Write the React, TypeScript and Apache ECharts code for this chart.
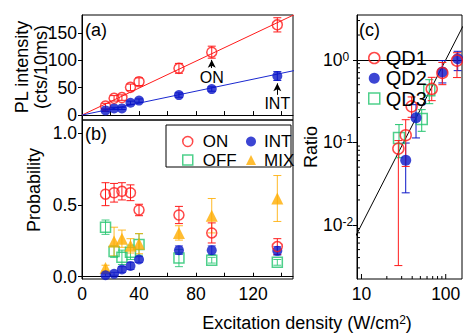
import React, { useEffect, useRef } from 'react';
import * as echarts from 'echarts';

const FONT = '"Liberation Sans", Arial, Helvetica, sans-serif';

// ---------- Panel (a): PL intensity ----------
const densityAB = [16.5, 22.5, 28, 34, 40, 68, 91, 137];
const plOn = [16.5, 30.6, 32, 50.7, 61, 85.5, 115, 165];
const plOnErr = [5, 5, 5, 6, 7, 9, 11, 13];
const plInt = [8.5, 12.2, 12.2, 22.5, 26.5, 36.6, 47.6, 71.4];
const plIntErr = [2, 2, 2, 3, 3, 4, 4, 8];
const onFitX = [0, 150];
const onFitY = [0, 185];
const intFitX = [0, 150];
const intFitY = [0, 82];

// ---------- Panel (b): probabilities ----------
const probOn = [0.575, 0.585, 0.595, 0.585, 0.465, 0.43, 0.305, 0.21];
const probOnErr = [0.08, 0.065, 0.06, 0.055, 0.04, 0.06, 0.07, 0.055];
const probInt = [0.01, 0.02, 0.05, 0.075, 0.12, 0.185, 0.185, 0.18];
const probIntErr = [0.01, 0.01, 0.02, 0.025, 0.02, 0.03, 0.03, 0.03];
const probOff = [0.345, 0.175, 0.135, 0.17, 0.225, 0.13, 0.115, 0.1];
const probOffErr = [0.05, 0.04, 0.05, 0.05, 0.075, 0.06, 0.02, 0.02];
const probMix = [0.06, 0.245, 0.265, 0.215, 0.23, 0.305, 0.425, 0.545];
const probMixErr = [0.02, 0.1, 0.06, 0.05, 0.07, 0.05, 0.12, 0.16];

// ---------- Panel (c): ratio (log-log) ----------
const qd1X = [27.4, 33.5, 39.4, 68.2, 91.2, 136];
const qd1Y = [0.084, 0.122, 0.273, 0.444, 0.694, 0.978];
const qd1Lo = [0.0032, 0.051, 0.201, 0.32, 0.5, 0.61];
const qd1Hi = [0.105, 0.188, 0.355, 0.614, 0.93, 1.22];
const qd2X = [33.5, 44.4, 91.2, 138.7];
const qd2Y = [0.0605, 0.198, 0.713, 1.03];
const qd2Lo = [0.0244, 0.113, 0.525, 0.74];
const qd2Hi = [0.098, 0.286, 0.98, 1.27];
const qd3X = [27.9, 51.9, 63.8];
const qd3Y = [0.113, 0.192, 0.427];
const qd3Lo = [0.065, 0.136, 0.294];
const qd3Hi = [0.164, 0.249, 0.575];
const fitCX = [8, 160];
const fitCY = [0.0064, 2.56];

// axis ranges and tick values
const cXRange = [8.85, 156];
const cYRange = [0.0022, 3.5];
const aYTicks = [0, 50, 100, 150];
const abXTicks = [20, 40, 60, 80, 100, 120, 140];
const bXLabels = [0, 40, 80, 120];
const bYTicks = [0, 0.5, 1];
const cXDecades = [10, 100];
const cYDecades = [-2, -1, 0]; // exponents: 10^-2, 10^-1, 10^0
const cXMinor = [20, 30, 40, 50, 60, 70, 80, 90];
const cYMinor = [0.003, 0.004, 0.005, 0.006, 0.007, 0.008, 0.009, 0.02, 0.03, 0.04, 0.05, 0.06, 0.07, 0.08, 0.09, 0.2, 0.3, 0.4, 0.5, 0.6, 0.7, 0.8, 0.9, 2, 3];

const RED = '#ff1a1a';
const BLUE = '#0b16c8';
const GREEN = '#22c46e';
const ORANGE = '#ffad00';

const pairs = (xs: number[], ys: number[]) => xs.map((x, i) => [x, ys[i]]);

const errBars = (
  name: string, xi: number, yi: number, xs: number[], lows: number[], highs: number[],
  color: string, opacity = 1, capW = 4
) => ({
  type: 'custom', name, xAxisIndex: xi, yAxisIndex: yi, silent: true, z: 2,
  data: xs.map((x, i) => [x, lows[i], highs[i]]),
  encode: { x: 0, y: [1, 2] },
  renderItem: (params: any, api: any) => {
    const x = api.value(0);
    const lo = api.coord([x, api.value(1)]);
    const hi = api.coord([x, api.value(2)]);
    const style = { stroke: color, lineWidth: 1, opacity };
    return {
      type: 'group',
      children: [
        { type: 'line', shape: { x1: lo[0], y1: lo[1], x2: hi[0], y2: hi[1] }, style },
        { type: 'line', shape: { x1: lo[0] - capW, y1: lo[1], x2: lo[0] + capW, y2: lo[1] }, style },
        { type: 'line', shape: { x1: hi[0] - capW, y1: hi[1], x2: hi[0] + capW, y2: hi[1] }, style },
      ],
    };
  },
});

const symErr = (name: string, xi: number, yi: number, xs: number[], ys: number[], err: number[], color: string, opacity = 1) =>
  errBars(name, xi, yi, xs, ys.map((v, i) => v - err[i]), ys.map((v, i) => v + err[i]), color, opacity);

const scatter = (
  name: string, xi: number, yi: number, xs: number[], ys: number[],
  symbol: string, size: number, color: string, open: boolean, extra: any = {}
) => ({
  type: 'scatter', name, xAxisIndex: xi, yAxisIndex: yi, symbol, symbolSize: size, z: 3,
  data: pairs(xs, ys),
  itemStyle: open ? { color: 'rgba(0,0,0,0)', borderColor: color, borderWidth: 1.5 } : { color },
  ...extra,
});

const lineSeries = (name: string, xi: number, yi: number, xs: number[], ys: number[], color: string) => ({
  type: 'line', name, xAxisIndex: xi, yAxisIndex: yi, data: pairs(xs, ys), showSymbol: false, symbol: 'none',
  lineStyle: { color, width: 1 }, clip: true, z: 1, silent: true,
});

const arrowMark = (x: number, y0: number, y1: number, text: string) => ({
  silent: true,
  symbol: ['none', 'arrow'],
  symbolSize: [6, 8],
  lineStyle: { color: '#000', width: 1, type: 'solid' },
  label: { show: true, position: 'start', formatter: text, color: '#000', fontSize: 16, fontFamily: FONT, distance: 1 },
  emphasis: { disabled: true },
  data: [[{ coord: [x, y0] }, { coord: [x, y1] }]],
});

// ticks (major & minor) and decade labels along the bottom / left edges of the log-log panel
const logEdgeMarks = (name: string, values: number[], dir: 'x' | 'y', len: number, withLabel: boolean) => ({
  type: 'custom', name, xAxisIndex: 2, yAxisIndex: 2, silent: true, z: 5,
  data: values.map((v) => (dir === 'x' ? [v, 0.1] : [20, v])),
  encode: { x: 0, y: 1 },
  renderItem: (params: any, api: any) => {
    const cs = params.coordSys;
    const v = dir === 'x' ? api.value(0) : api.value(1);
    const p = api.coord([api.value(0), api.value(1)]);
    const bottom = cs.y + cs.height;
    const shape = dir === 'x'
      ? { x1: p[0], y1: bottom, x2: p[0], y2: bottom - len }
      : { x1: cs.x, y1: p[1], x2: cs.x + len, y2: p[1] };
    const children: any[] = [{ type: 'line', shape, style: { stroke: '#000', lineWidth: 1 } }];
    if (withLabel && dir === 'x') {
      children.push({
        type: 'text', x: p[0], y: bottom + 6,
        style: { text: String(Math.round(v)), align: 'center', verticalAlign: 'top', fontSize: 17.5, fontFamily: FONT, fill: '#000' },
      });
    }
    return { type: 'group', children };
  },
});

const labelStyle = { color: '#000', fontSize: 17.5, fontFamily: FONT };
const axisLine = { show: true, lineStyle: { color: '#000', width: 1 } };

const legendBase = {
  orient: 'vertical', itemWidth: 10, itemHeight: 10, selectedMode: false,
  itemStyle: { borderWidth: 1.5 },
};

const option: any = {
  animation: false,
  backgroundColor: '#fff',
  grid: [
    { left: 82, top: 15, width: 211, height: 105, show: true, borderColor: '#000', borderWidth: 1 },
    { left: 82, top: 120, width: 211, height: 159, show: true, borderColor: '#000', borderWidth: 1 },
    { left: 357, top: 15, width: 105, height: 264, show: true, borderColor: '#000', borderWidth: 1 },
  ],
  xAxis: [
    {
      gridIndex: 0, type: 'value', min: 0, max: 148, axisLine,
      axisTick: { show: true, inside: true, length: 4, customValues: abXTicks, lineStyle: { color: '#000' } },
      axisLabel: { show: false }, splitLine: { show: false },
    },
    {
      gridIndex: 1, type: 'value', min: 0, max: 148, axisLine,
      axisTick: { show: true, inside: true, length: 4, customValues: abXTicks, lineStyle: { color: '#000' } },
      axisLabel: { ...labelStyle, margin: 6, customValues: bXLabels },
      splitLine: { show: false },
    },
    {
      gridIndex: 2, type: 'log', logBase: 10, min: cXRange[0], max: cXRange[1], position: 'bottom', axisLine,
      axisTick: { show: false }, axisLabel: { show: false }, splitLine: { show: false },
    },
  ],
  yAxis: [
    {
      gridIndex: 0, type: 'value', min: -9, max: 183, splitNumber: 4, axisLine,
      axisTick: { show: true, inside: false, length: 4, customValues: aYTicks, lineStyle: { color: '#000' } },
      axisLabel: { ...labelStyle, margin: 5, customValues: aYTicks },
      splitLine: { show: false },
    },
    {
      gridIndex: 1, type: 'value', min: -0.016, max: 1.092, splitNumber: 2, axisLine,
      axisTick: { show: true, inside: false, length: 4, customValues: bYTicks, lineStyle: { color: '#000' } },
      axisLabel: {
        ...labelStyle, margin: 5, customValues: bYTicks,
        formatter: (v: number) => v.toFixed(1),
      },
      splitLine: { show: false },
    },
    {
      gridIndex: 2, type: 'log', logBase: 10, min: cYRange[0], max: cYRange[1], position: 'left', axisLine,
      axisTick: { show: false }, axisLabel: { show: false }, splitLine: { show: false },
    },
    {
      // decade ticks/labels of panel (c), in log10 units
      gridIndex: 2, type: 'value', position: 'left', offset: 0,
      min: Math.log10(cYRange[0]), max: Math.log10(cYRange[1]),
      axisLine: { show: false },
      axisTick: { show: true, inside: false, length: 4, customValues: cYDecades, lineStyle: { color: '#000' } },
      axisLabel: {
        color: '#000', margin: 34, align: 'left', customValues: cYDecades,
        formatter: (v: number) => `{b|10}{s|${Math.round(v)}}`,
        rich: {
          b: { fontSize: 17.5, fontFamily: FONT, color: '#000' },
          s: { fontSize: 12, fontFamily: FONT, color: '#000', verticalAlign: 'top' },
        },
      },
      splitLine: { show: false },
    },
  ],
  legend: [
    {
      ...legendBase, data: ['ON', 'OFF'], left: 177, top: 128, itemGap: 1.5,
      textStyle: { color: '#000', fontSize: 17, fontFamily: FONT, lineHeight: 17, padding: [0, 0, 0, 5] },
    },
    {
      ...legendBase, data: ['INT', 'MIX'], left: 241, top: 128, itemGap: 1.5,
      textStyle: { color: '#000', fontSize: 17, fontFamily: FONT, lineHeight: 17, padding: [0, 0, 0, 3] },
    },
    {
      ...legendBase, data: ['QD1', 'QD2', 'QD3'], left: 363, top: 43, itemGap: 0.3, itemWidth: 11, itemHeight: 11,
      textStyle: { color: '#000', fontSize: 20, fontFamily: FONT, lineHeight: 18, padding: [0, 0, 0, 1] },
    },
  ],
  graphic: [
    { type: 'rect', shape: { x: 166, y: 125, width: 125, height: 42 }, style: { fill: 'none', stroke: '#000', lineWidth: 1 }, z: 10 },
    { type: 'text', x: 85, y: 30, style: { text: '(a)', fontSize: 18, fontFamily: FONT, fill: '#000', verticalAlign: 'middle' } },
    { type: 'text', x: 85, y: 134, style: { text: '(b)', fontSize: 18, fontFamily: FONT, fill: '#000', verticalAlign: 'middle' } },
    { type: 'text', x: 359, y: 30, style: { text: '(c)', fontSize: 18, fontFamily: FONT, fill: '#000', verticalAlign: 'middle' } },
    { type: 'text', x: 22, y: 67, rotation: Math.PI / 2, style: { text: 'PL intensity', fontSize: 18, fontFamily: FONT, fill: '#000', align: 'center', verticalAlign: 'middle' } },
    { type: 'text', x: 41, y: 67, rotation: Math.PI / 2, style: { text: '(cts/10ms)', fontSize: 18, fontFamily: FONT, fill: '#000', align: 'center', verticalAlign: 'middle' } },
    { type: 'text', x: 34, y: 190, rotation: Math.PI / 2, style: { text: 'Probability', fontSize: 18, fontFamily: FONT, fill: '#000', align: 'center', verticalAlign: 'middle' } },
    { type: 'text', x: 311, y: 147, rotation: Math.PI / 2, style: { text: 'Ratio', fontSize: 18, fontFamily: FONT, fill: '#000', align: 'center', verticalAlign: 'middle' } },
    {
      type: 'text', x: 307, y: 323,
      style: {
        text: '{t|Excitation density (W/cm}{s|2}{t|)}', align: 'center', verticalAlign: 'middle',
        rich: {
          t: { fontSize: 18, fontFamily: FONT, fill: '#000' },
          s: { fontSize: 12, fontFamily: FONT, fill: '#000', verticalAlign: 'top' },
        },
      },
    },
  ],
  series: [
    // (a)
    lineSeries('onFit', 0, 0, onFitX, onFitY, RED),
    lineSeries('intFit', 0, 0, intFitX, intFitY, '#1a28d0'),
    symErr('plOnErr', 0, 0, densityAB, plOn, plOnErr, RED),
    symErr('plIntErr', 0, 0, densityAB, plInt, plIntErr, BLUE),
    scatter('PL-ON', 0, 0, densityAB, plOn, 'circle', 10, RED, true, { markLine: arrowMark(91, 86, 101, 'ON') }),
    scatter('PL-INT', 0, 0, densityAB, plInt, 'circle', 10, BLUE, false, { markLine: arrowMark(137, 37, 58, 'INT') }),
    // (b)
    symErr('offErr', 1, 1, densityAB, probOff, probOffErr, GREEN, 0.85),
    symErr('mixErr', 1, 1, densityAB, probMix, probMixErr, ORANGE, 0.85),
    symErr('onErr', 1, 1, densityAB, probOn, probOnErr, RED),
    symErr('intErr', 1, 1, densityAB, probInt, probIntErr, BLUE, 0.7),
    scatter('OFF', 1, 1, densityAB, probOff, 'rect', 10, GREEN, true),
    scatter('MIX', 1, 1, densityAB, probMix, 'triangle', 12, ORANGE, false),
    scatter('INT', 1, 1, densityAB, probInt, 'circle', 10, BLUE, false),
    scatter('ON', 1, 1, densityAB, probOn, 'circle', 10, RED, true),
    // (c)
    lineSeries('fitC', 2, 2, fitCX, fitCY, '#000'),
    errBars('qd3Err', 2, 2, qd3X, qd3Lo, qd3Hi, GREEN),
    errBars('qd2Err', 2, 2, qd2X, qd2Lo, qd2Hi, BLUE),
    errBars('qd1Err', 2, 2, qd1X, qd1Lo, qd1Hi, RED),
    scatter('QD3', 2, 2, qd3X, qd3Y, 'rect', 11, GREEN, true),
    scatter('QD2', 2, 2, qd2X, qd2Y, 'circle', 11, BLUE, false),
    scatter('QD1', 2, 2, qd1X, qd1Y, 'circle', 11, RED, true),
    logEdgeMarks('cxMajor', cXDecades, 'x', 5, true),
    logEdgeMarks('cxMinor', cXMinor, 'x', 3, false),
    logEdgeMarks('cyMinor', cYMinor, 'y', 3, false),
  ],
};

const App = () => {
  const ref = useRef<HTMLDivElement>(null);
  useEffect(() => {
    if (!ref.current) return;
    const chart = echarts.init(ref.current, null, { renderer: 'svg' });
    chart.setOption(option);
    return () => chart.dispose();
  }, []);
  return <div ref={ref} style={{ position: 'fixed', left: 0, top: 0, width: 463, height: 334, background: '#fff' }} />;
};

export default App;
